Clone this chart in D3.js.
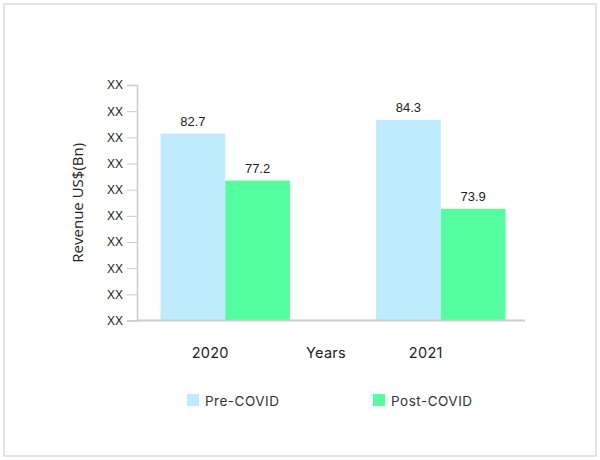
<!DOCTYPE html>
<html>
<head>
<meta charset="utf-8">
<script src="https://cdn.jsdelivr.net/npm/d3@7"></script>
<style>
  body { margin: 0; background: #fff; }
  svg { display: block; }
</style>
</head>
<body>
<svg width="600" height="460"></svg>
<script>
var years = ["2020", "2021"];
var seriesNames = ["Pre-COVID", "Post-COVID"];
var preCovid = [82.7, 84.3];
var postCovid = [77.2, 73.9];
var tickLabels = ["XX", "XX", "XX", "XX", "XX", "XX", "XX", "XX", "XX", "XX"];
var colors = ["#beebfe", "#52fe9d"];

var svg = d3.select("svg"),
    width = +svg.attr("width"),
    height = +svg.attr("height");

var plotLeft = 137, plotRight = 525, plotTop = 85, plotBottom = 320.5;

// card frame
svg.append("rect")
    .attr("x", 4).attr("y", 4)
    .attr("width", 592).attr("height", 452)
    .attr("fill", "#fff")
    .attr("stroke", "#dadada")
    .attr("stroke-width", 1.5);

var values = years.map(function(y, i) { return [preCovid[i], postCovid[i]]; });

// axis labels are hidden (XX), the scale is fitted to the drawn bar heights
var y = d3.scaleLinear()
    .domain([60.8, 88.4])
    .range([plotBottom, plotTop]);

var x0 = d3.scaleBand()
    .domain(years)
    .range([plotLeft + 2, plotRight + 2])
    .paddingInner(0.4)
    .paddingOuter(0.1);

var x1 = d3.scaleBand()
    .domain(seriesNames)
    .range([0, x0.bandwidth()]);

var tickVals = tickLabels.map(function(d, i) {
  return y.domain()[0] + i * (y.domain()[1] - y.domain()[0]) / (tickLabels.length - 1);
});

var yAxis = d3.axisLeft(y)
    .tickValues(tickVals)
    .tickSize(10)
    .tickPadding(4)
    .tickFormat(function(d, i) { return tickLabels[i]; });

var gy = svg.append("g")
    .attr("transform", "translate(" + plotLeft + ",0)")
    .call(yAxis);
gy.select(".domain").attr("stroke", "#cccccc").attr("stroke-width", 1.5);
gy.selectAll(".tick line").attr("stroke", "#cccccc");
gy.selectAll(".tick text")
    .attr("fill", "#222")
    .style("font-family", "'Liberation Sans', Arial, sans-serif")
    .style("font-size", "12px");

var groups = svg.append("g")
  .selectAll("g")
  .data(years)
  .enter().append("g")
    .attr("transform", function(d) { return "translate(" + x0(d) + ",0)"; });

groups.selectAll("rect")
  .data(function(d, i) { return values[i].map(function(v, j) { return {key: seriesNames[j], value: v, idx: j}; }); })
  .enter().append("rect")
    .attr("x", function(d) { return x1(d.key); })
    .attr("y", function(d) { return y(d.value); })
    .attr("width", x1.bandwidth())
    .attr("height", function(d) { return plotBottom - y(d.value); })
    .attr("fill", function(d) { return colors[d.idx]; });

groups.selectAll("text")
  .data(function(d, i) { return values[i].map(function(v, j) { return {key: seriesNames[j], value: v}; }); })
  .enter().append("text")
    .attr("x", function(d) { return x1(d.key) + x1.bandwidth() / 2; })
    .attr("y", function(d) { return y(d.value) - 8; })
    .attr("text-anchor", "middle")
    .attr("fill", "#222")
    .style("font-family", "'Liberation Sans', Arial, sans-serif")
    .style("font-size", "13px")
    .text(function(d) { return d.value.toFixed(1); });

// x axis line
svg.append("line")
    .attr("x1", plotLeft).attr("x2", plotRight)
    .attr("y1", plotBottom).attr("y2", plotBottom)
    .attr("stroke", "#cccccc")
    .attr("stroke-width", 2);

// year labels
svg.append("g")
  .selectAll("text")
  .data(years)
  .enter().append("text")
    .attr("x", function(d) { return x0(d) + x0.bandwidth() / 2 - 15; })
    .attr("y", 358)
    .attr("text-anchor", "middle")
    .attr("fill", "#222")
    .style("font-family", "Inter, 'Noto Sans', sans-serif")
    .style("font-size", "14.5px")
    .style("letter-spacing", "0.3px")
    .text(function(d) { return d; });

svg.append("text")
    .attr("x", (plotLeft + plotRight) / 2 - 5)
    .attr("y", 358)
    .attr("text-anchor", "middle")
    .attr("fill", "#222")
    .style("font-family", "Inter, 'Noto Sans', sans-serif")
    .style("font-size", "14.5px")
    .style("letter-spacing", "0.3px")
    .text("Years");

svg.append("text")
    .attr("transform", "translate(83," + (plotTop + plotBottom) / 2 + ") rotate(-90)")
    .attr("text-anchor", "middle")
    .attr("fill", "#222")
    .style("font-family", "'Open Sans', sans-serif")
    .style("font-size", "15px")
    .text("Revenue US$(Bn)");

// legend
var legendX = [187, 373];
var legend = svg.append("g")
  .selectAll("g")
  .data(seriesNames)
  .enter().append("g")
    .attr("transform", function(d, i) { return "translate(" + legendX[i] + ",394)"; });

legend.append("rect")
    .attr("width", 12).attr("height", 12)
    .attr("fill", function(d, i) { return colors[i]; });

legend.append("text")
    .attr("x", 18).attr("y", 11.5)
    .attr("fill", "#333")
    .style("font-family", "Inter, 'Noto Sans', sans-serif")
    .style("font-size", "13.5px")
    .style("letter-spacing", "0.5px")
    .text(function(d) { return d; });
</script>
</body>
</html>
